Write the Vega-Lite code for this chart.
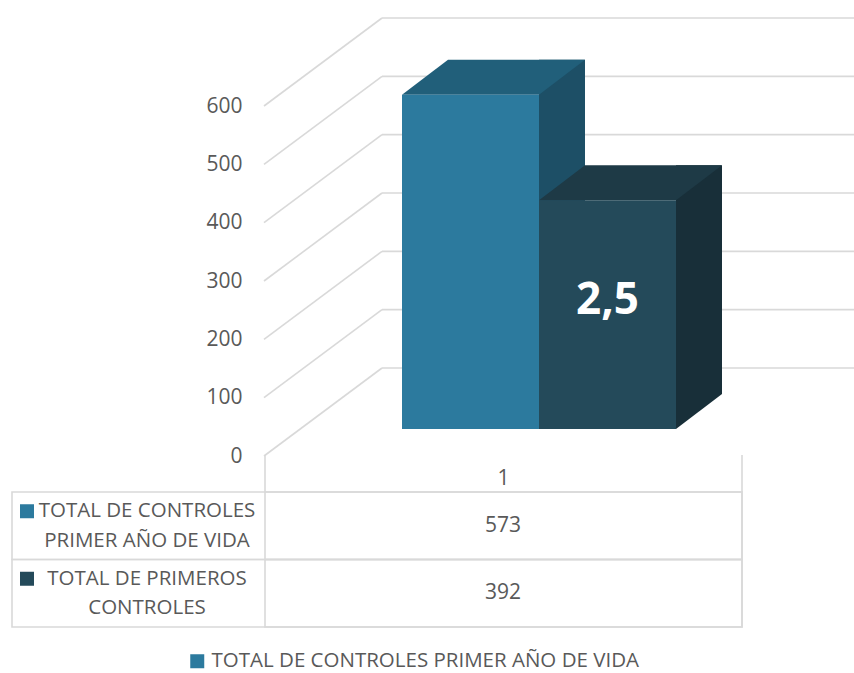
{
  "$schema": "https://vega.github.io/schema/vega-lite/v6.json",
  "width": 854,
  "height": 673,
  "autosize": {"type": "none"},
  "padding": 0,
  "background": "white",
  "config": {
    "view": {"stroke": null},
    "font": "Open Sans",
    "text": {"font": "Open Sans", "color": "#595959"}
  },
  "datasets": {
    "barras": [
      {"serie": "TOTAL DE CONTROLES PRIMER AÑO DE VIDA", "etiqueta": "TOTAL DE CONTROLES\nPRIMER AÑO DE VIDA", "valor": 573},
      {"serie": "TOTAL DE PRIMEROS CONTROLES", "etiqueta": "TOTAL DE PRIMEROS\nCONTROLES", "valor": 392}
    ],
    "rotulos": [
      {"serie": "TOTAL DE PRIMEROS CONTROLES", "valor": 392, "texto": "2,5"}
    ],
    "marcas": [
      {"v": 0}, {"v": 100}, {"v": 200}, {"v": 300}, {"v": 400}, {"v": 500}, {"v": 600}
    ],
    "categorias": [
      {"categoria": "1"}
    ]
  },
  "resolve": {
    "scale": {"x": "independent", "y": "independent", "color": "independent"},
    "axis": {"x": "independent", "y": "independent"},
    "legend": {"color": "independent"}
  },
  "layer": [
    {
      "data": {"name": "marcas"},
      "mark": {"type": "rule", "yOffset": -61, "color": "#d9d9d9", "strokeWidth": 1.6},
      "encoding": {
        "y": {"field": "v", "type": "quantitative", "scale": {"domain": [0, 600], "range": [429, 79], "nice": false}, "axis": null},
        "x": {"value": 382},
        "x2": {"value": 854}
      }
    },
    {
      "data": {"name": "marcas"},
      "mark": {"type": "rule", "yOffset": 27, "y2Offset": -61, "color": "#d9d9d9", "strokeWidth": 1.6},
      "encoding": {
        "y": {
          "field": "v", "type": "quantitative",
          "scale": {"domain": [0, 600], "range": [429, 79], "nice": false},
          "axis": {
            "orient": "left", "offset": -244, "labelOffset": 27, "ticks": false, "domain": false, "grid": false,
            "labelPadding": 2, "values": [0, 100, 200, 300, 400, 500, 600], "title": null,
            "labelFont": "Open Sans", "labelFontSize": 21, "labelColor": "#595959"
          }
        },
        "y2": {"field": "v"},
        "x": {"value": 264},
        "x2": {"value": 382}
      }
    },
    {
      "data": {"name": "marcas"},
      "transform": [{"filter": "datum.v == 0"}],
      "mark": {"type": "rule", "yOffset": 26, "y2Offset": 63, "color": "#d9d9d9", "strokeWidth": 1.6},
      "encoding": {
        "y": {"field": "v", "type": "quantitative", "scale": {"domain": [0, 600], "range": [429, 79], "nice": false}, "axis": null},
        "y2": {"field": "v"},
        "x": {"value": 265}
      }
    },
    {
      "data": {"name": "marcas"},
      "transform": [{"filter": "datum.v == 0"}],
      "mark": {"type": "rule", "yOffset": 26, "y2Offset": 63, "color": "#d9d9d9", "strokeWidth": 1.6},
      "encoding": {
        "y": {"field": "v", "type": "quantitative", "scale": {"domain": [0, 600], "range": [429, 79], "nice": false}, "axis": null},
        "y2": {"field": "v"},
        "x": {"value": 742}
      }
    },
    {
      "data": {"name": "barras"},
      "mark": {"type": "bar", "width": 46, "xOffset": 91.5, "yOffset": -35, "y2Offset": -35},
      "encoding": {
        "x": {"field": "serie", "type": "nominal", "sort": null, "scale": {"domain": ["TOTAL DE CONTROLES PRIMER AÑO DE VIDA", "TOTAL DE PRIMEROS CONTROLES"], "range": [402, 676], "paddingInner": 0, "paddingOuter": 0}, "axis": null},
        "y": {"field": "valor", "type": "quantitative", "scale": {"domain": [0, 600], "range": [429, 79], "nice": false}, "axis": null},
        "color": {"field": "serie", "type": "nominal", "scale": {"domain": ["TOTAL DE CONTROLES PRIMER AÑO DE VIDA", "TOTAL DE PRIMEROS CONTROLES"], "range": ["#1d4f66", "#182f39"]}, "legend": null}
      }
    },
    {
      "data": {"name": "barras"},
      "mark": {"type": "point", "shape": "M68.5,-35L114.5,-35L68.5,0Z", "size": 4, "filled": true, "opacity": 1, "strokeWidth": 0},
      "encoding": {
        "x": {"field": "serie", "type": "nominal", "sort": null, "scale": {"domain": ["TOTAL DE CONTROLES PRIMER AÑO DE VIDA", "TOTAL DE PRIMEROS CONTROLES"], "range": [402, 676], "paddingInner": 0, "paddingOuter": 0}, "axis": null},
        "y": {"datum": 0, "type": "quantitative", "scale": {"domain": [0, 600], "range": [429, 79], "nice": false}, "axis": null},
        "color": {"field": "serie", "type": "nominal", "scale": {"domain": ["TOTAL DE CONTROLES PRIMER AÑO DE VIDA", "TOTAL DE PRIMEROS CONTROLES"], "range": ["#1d4f66", "#182f39"]}, "legend": null}
      }
    },
    {
      "data": {"name": "barras"},
      "mark": {"type": "point", "shape": "M-68.5,0L68.5,0L114.5,-35L-22.5,-35Z", "size": 4, "filled": true, "opacity": 1, "strokeWidth": 0},
      "encoding": {
        "x": {"field": "serie", "type": "nominal", "sort": null, "scale": {"domain": ["TOTAL DE CONTROLES PRIMER AÑO DE VIDA", "TOTAL DE PRIMEROS CONTROLES"], "range": [402, 676], "paddingInner": 0, "paddingOuter": 0}, "axis": null},
        "y": {"field": "valor", "type": "quantitative", "scale": {"domain": [0, 600], "range": [429, 79], "nice": false}, "axis": null},
        "color": {"field": "serie", "type": "nominal", "scale": {"domain": ["TOTAL DE CONTROLES PRIMER AÑO DE VIDA", "TOTAL DE PRIMEROS CONTROLES"], "range": ["#215f7a", "#1e3a46"]}, "legend": null}
      }
    },
    {
      "data": {"name": "barras"},
      "mark": {"type": "bar"},
      "encoding": {
        "x": {"field": "serie", "type": "nominal", "sort": null, "scale": {"domain": ["TOTAL DE CONTROLES PRIMER AÑO DE VIDA", "TOTAL DE PRIMEROS CONTROLES"], "range": [402, 676], "paddingInner": 0, "paddingOuter": 0}, "axis": null},
        "y": {"field": "valor", "type": "quantitative", "scale": {"domain": [0, 600], "range": [429, 79], "nice": false}, "axis": null},
        "color": {
          "field": "serie", "type": "nominal",
          "scale": {"domain": ["TOTAL DE CONTROLES PRIMER AÑO DE VIDA", "TOTAL DE PRIMEROS CONTROLES"], "range": ["#2c7a9e", "#244a5a"]},
          "legend": {
            "values": ["TOTAL DE CONTROLES PRIMER AÑO DE VIDA"],
            "orient": "none", "legendX": 187, "legendY": 651, "title": null, "padding": 0,
            "symbolType": "square", "symbolSize": 196, "symbolStrokeWidth": 0, "symbolOpacity": 1,
            "labelFont": "Open Sans", "labelFontSize": 20.5, "labelColor": "#595959", "labelLimit": 800, "labelOffset": 4
          }
        }
      }
    },
    {
      "data": {"name": "rotulos"},
      "mark": {"type": "text", "dy": 101, "baseline": "middle", "align": "center", "fontSize": 44, "fontWeight": "bold", "color": "white", "font": "Open Sans"},
      "encoding": {
        "x": {"field": "serie", "type": "nominal", "scale": {"domain": ["TOTAL DE CONTROLES PRIMER AÑO DE VIDA", "TOTAL DE PRIMEROS CONTROLES"], "range": [402, 676], "paddingInner": 0, "paddingOuter": 0}, "axis": null},
        "y": {"field": "valor", "type": "quantitative", "scale": {"domain": [0, 600], "range": [429, 79], "nice": false}, "axis": null},
        "text": {"field": "texto"}
      }
    },
    {
      "data": {"name": "barras"},
      "mark": {"type": "rect", "fill": null, "stroke": "#d9d9d9", "strokeWidth": 1.6},
      "encoding": {
        "y": {"field": "serie", "type": "nominal", "sort": null, "scale": {"domain": ["TOTAL DE CONTROLES PRIMER AÑO DE VIDA", "TOTAL DE PRIMEROS CONTROLES"], "range": [492, 627], "paddingInner": 0, "paddingOuter": 0}, "axis": null},
        "x": {"value": 12},
        "x2": {"value": 742}
      }
    },
    {
      "data": {"name": "barras"},
      "mark": {"type": "rect", "fill": null, "stroke": "#d9d9d9", "strokeWidth": 1.6},
      "encoding": {
        "y": {"field": "serie", "type": "nominal", "sort": null, "scale": {"domain": ["TOTAL DE CONTROLES PRIMER AÑO DE VIDA", "TOTAL DE PRIMEROS CONTROLES"], "range": [492, 627], "paddingInner": 0, "paddingOuter": 0}, "axis": null},
        "x": {"value": 265},
        "x2": {"value": 742}
      }
    },
    {
      "data": {"name": "barras"},
      "mark": {"type": "text", "baseline": "middle", "align": "center", "fontSize": 21, "color": "#595959"},
      "encoding": {
        "y": {"field": "serie", "type": "nominal", "sort": null, "scale": {"domain": ["TOTAL DE CONTROLES PRIMER AÑO DE VIDA", "TOTAL DE PRIMEROS CONTROLES"], "range": [492, 627], "paddingInner": 0, "paddingOuter": 0}, "axis": null},
        "x": {"value": 503},
        "text": {"field": "valor"}
      }
    },
    {
      "data": {"name": "barras"},
      "mark": {"type": "text", "baseline": "middle", "align": "center", "fontSize": 20.5, "color": "#595959", "lineBreak": "\n", "lineHeight": 29.5, "dy": -14.5},
      "encoding": {
        "y": {"field": "serie", "type": "nominal", "sort": null, "scale": {"domain": ["TOTAL DE CONTROLES PRIMER AÑO DE VIDA", "TOTAL DE PRIMEROS CONTROLES"], "range": [492, 627], "paddingInner": 0, "paddingOuter": 0}, "axis": null},
        "x": {"value": 147},
        "text": {"field": "etiqueta"}
      }
    },
    {
      "data": {"name": "barras"},
      "mark": {"type": "point", "shape": "square", "size": 196, "filled": true, "opacity": 1, "strokeWidth": 0, "yOffset": -14.5},
      "encoding": {
        "y": {"field": "serie", "type": "nominal", "sort": null, "scale": {"domain": ["TOTAL DE CONTROLES PRIMER AÑO DE VIDA", "TOTAL DE PRIMEROS CONTROLES"], "range": [492, 627], "paddingInner": 0, "paddingOuter": 0}, "axis": null},
        "x": {"value": 27},
        "color": {"field": "serie", "type": "nominal", "scale": {"domain": ["TOTAL DE CONTROLES PRIMER AÑO DE VIDA", "TOTAL DE PRIMEROS CONTROLES"], "range": ["#2c7a9e", "#244a5a"]}, "legend": null}
      }
    },
    {
      "data": {"name": "categorias"},
      "mark": {"type": "text", "baseline": "middle", "align": "center", "fontSize": 21, "color": "#595959", "yOffset": 50},
      "encoding": {
        "x": {"field": "categoria", "type": "nominal", "scale": {"domain": ["1"], "range": [265, 742], "paddingInner": 0, "paddingOuter": 0}, "axis": null},
        "y": {"datum": 0, "type": "quantitative", "scale": {"domain": [0, 600], "range": [429, 79], "nice": false}, "axis": null},
        "text": {"field": "categoria"}
      }
    }
  ]
}
